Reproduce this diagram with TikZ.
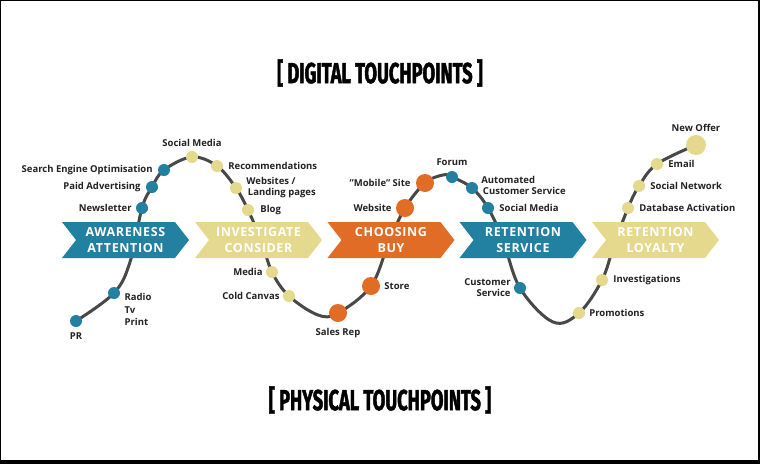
\documentclass[tikz,border=0pt]{standalone}
\usepackage{fontspec}
\setmainfont{Open Sans}
\newfontfamily\bannerfont[LetterSpace=5]{Open Sans}
\newfontfamily\titlefont[FakeStretch=0.63,FakeBold=1.5]{Fira Sans}
\usepackage{tikz}
\usetikzlibrary{positioning,shapes.symbols,backgrounds}
\definecolor{tpblue}{RGB}{34,128,161}
\definecolor{tpyellow}{RGB}{228,217,140}
\definecolor{tporange}{RGB}{224,108,38}
\definecolor{tpline}{RGB}{72,72,72}
\definecolor{tpink}{RGB}{34,34,34}

\begin{document}
\begin{tikzpicture}[x=1pt,y=-1pt,
  every node/.style={font=\bfseries\fontsize{9.5}{11}\selectfont,text=tpink,align=left,inner sep=0pt},
  dot/.style={circle,fill=#1,minimum size=12pt},
  bigdot/.style={circle,fill=#1,minimum size=18pt},
  stage/.style={signal,signal from=west,signal to=east,signal pointer angle=104,fill=#1,
    minimum width=127pt,minimum height=36pt,text=white,align=center,
    font=\bannerfont\bfseries\fontsize{12.5}{16}\selectfont},
  heading/.style={font=\titlefont\bfseries\fontsize{29}{30}\selectfont,text=black},
  curve/.style={draw=tpline,line width=3pt,line cap=round}]
  \useasboundingbox (0,0) rectangle (760,464);
  % headings
  \node[heading] (digital) at (380,73) {[ DIGITAL TOUCHPOINTS ]};
  \node[heading] (physical) at (380,400) {[ PHYSICAL TOUCHPOINTS ]};
  % stages
  \node[stage=tpblue] (aware) at (125.5,240) {AWARENESS\\ATTENTION};
  \node[stage=tpyellow] (invest) at (258.5,240) {INVESTIGATE\\CONSIDER};
  \node[stage=tporange] (choose) at (391,240) {CHOOSING\\BUY};
  \node[stage=tpblue] (service) at (523,240) {RETENTION\\SERVICE};
  \node[stage=tpyellow] (loyal) at (655.5,240) {RETENTION\\LOYALTY};
  % awareness
  \node[dot=tpblue] (pr) at (76,321) {};
  \node[below=5pt of pr] {PR};
  \node[dot=tpblue] (radio) at (114,293) {};
  \node[below right=-4pt and 6pt of radio,font=\bfseries\fontsize{9.5}{12.5}\selectfont] {Radio\\Tv\\Print};
  \node[dot=tpblue] (news) at (142,208) {};
  \node[left=4pt of news] {Newsletter};
  \node[dot=tpblue] (paid) at (152,187) {};
  \node[left=5pt of paid] {Paid Advertising};
  \node[dot=tpblue] (seo) at (164,170) {};
  \node[left=5pt of seo] {Search Engine Optimisation};
  % investigate
  \node[dot=tpyellow] (social) at (192,157) {};
  \node[above=4pt of social] {Social Media};
  \node[dot=tpyellow] (recomm) at (217,166) {};
  \node[right=5pt of recomm] {Recommendations};
  \node[dot=tpyellow] (sites) at (236,188) {};
  \node[right=4pt of sites] {Websites /\\\,Landing pages};
  \node[dot=tpyellow] (blog) at (248,210) {};
  \node[right=6pt of blog] {Blog};
  \node[dot=tpyellow] (media) at (272,272) {};
  \node[left=3pt of media] {Media};
  \node[dot=tpyellow] (canvas) at (289,296) {};
  \node[left=3pt of canvas] {Cold Canvas};
  % choosing
  \node[bigdot=tporange] (sales) at (338,313) {};
  \node[below=6pt of sales] {Sales Rep};
  \node[bigdot=tporange] (store) at (371,286) {};
  \node[right=4pt of store] {Store};
  \node[bigdot=tporange] (website) at (405,208) {};
  \node[left=4pt of website] {Website};
  \node[bigdot=tporange] (mobile) at (425,183) {};
  \node[left=5pt of mobile] {"Mobile" Site};
  % service
  \node[dot=tpblue] (forum) at (452,177) {};
  \node[above=5pt of forum] {Forum};
  \node[dot=tpblue] (auto) at (472,188) {};
  \node[right=3pt of auto,yshift=3pt] {Automated\\\,Customer Service};
  \node[dot=tpblue] (socialr) at (488,208) {};
  \node[right=5pt of socialr] {Social Media};
  \node[dot=tpblue] (care) at (520,288) {};
  \node[left=3pt of care,align=right] {Customer\\Service};
  % loyalty
  \node[dot=tpyellow] (promo) at (579,313) {};
  \node[right=4pt of promo] {Promotions};
  \node[dot=tpyellow] (investig) at (602,280) {};
  \node[right=5pt of investig] {Investigations};
  \node[dot=tpyellow] (dbase) at (628,208) {};
  \node[right=5pt of dbase] {Database Activation};
  \node[dot=tpyellow] (network) at (639,186) {};
  \node[right=5pt of network] {Social Network};
  \node[dot=tpyellow] (email) at (657,164) {};
  \node[right=5pt of email] {Email};
  \node[dot=tpyellow,minimum size=20pt] (offer) at (696,145) {};
  \node[above=3pt of offer] {New Offer};
  % bends of the journey line
  \coordinate (a1) at (130,262);
  \coordinate (i1) at (261,240);
  \coordinate (b1) at (318,315);
  \coordinate (c1) at (389,242);
  \coordinate (p1) at (443,175);
  \coordinate (r1) at (503,240);
  \coordinate (b2) at (553,322);
  \coordinate (l1) at (614,245);
  \begin{scope}[on background layer]
    \fill[black] (0,0) rectangle (760,464);
    \fill[white] (1,1) rectangle (758,460);
    \draw[curve] plot[smooth,tension=0.6] coordinates {(pr.center) (radio.center) (a1) (news.center)
      (paid.center) (seo.center) (social.center) (recomm.center) (sites.center) (blog.center) (i1)
      (media.center) (canvas.center) (b1) (sales.center) (store.center) (c1) (website.center)
      (mobile.center) (p1) (forum.center) (auto.center) (socialr.center) (r1) (care.center) (b2)
      (promo.center) (investig.center) (l1) (dbase.center) (network.center) (email.center) (offer.center)};
  \end{scope}
\end{tikzpicture}
\end{document}
